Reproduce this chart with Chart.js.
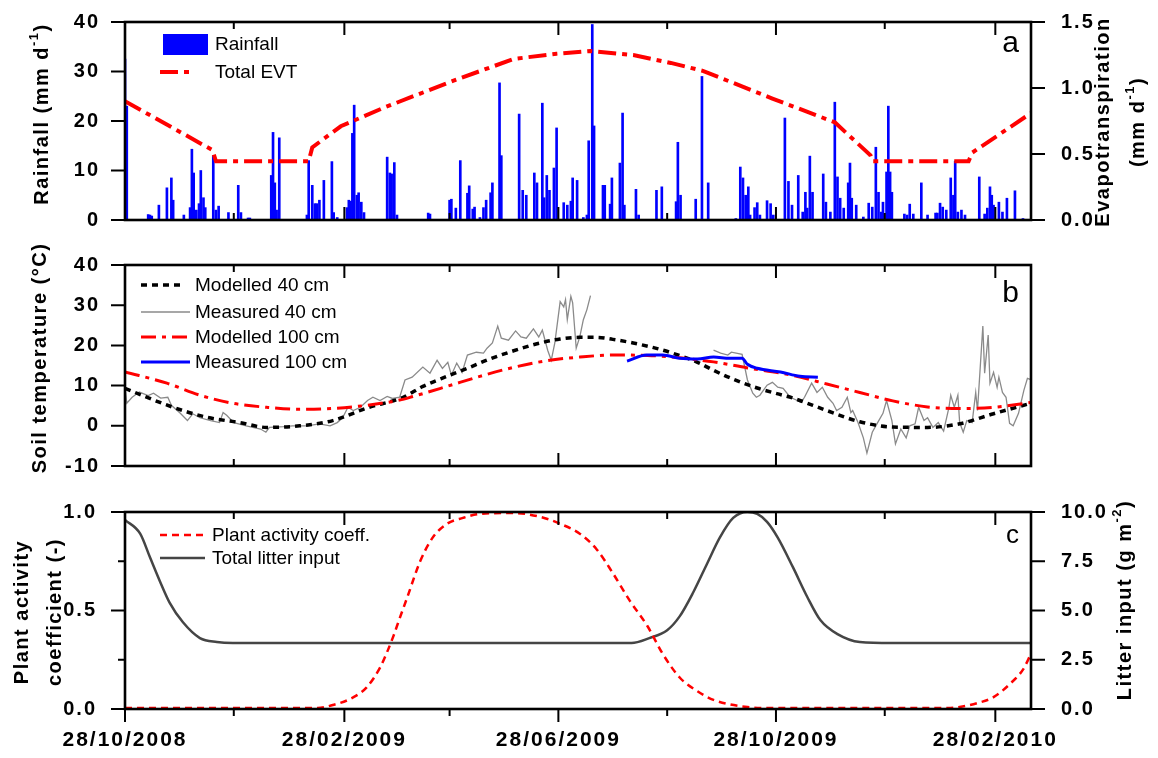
<!DOCTYPE html>
<html>
<head>
<meta charset="utf-8">
<title>Rainfall, soil temperature and plant activity</title>
<script src="https://cdn.jsdelivr.net/npm/chart.js@4.4.1/dist/chart.umd.min.js"></script>
<style>
  html, body { margin: 0; padding: 0; background: #fff; }
  body { width: 1158px; height: 758px; position: relative; overflow: hidden; }
  canvas { position: absolute; left: 0; }
</style>
</head>
<body>
<canvas id="chartA" width="1158" height="240" style="top:0px"></canvas>
<canvas id="chartB" width="1158" height="245" style="top:240px"></canvas>
<canvas id="chartC" width="1158" height="273" style="top:485px"></canvas>
<script>
// x values are days after 28/10/2008
var majorDays = [0, 123, 243, 365, 488];
var minorDays = [61, 182, 304, 426];
var dateLabels = ['28/10/2008', '28/02/2009', '28/06/2009', '28/10/2009', '28/02/2010'];

// panel a: daily rainfall (mm) and total evapotranspiration (mm/d)
var rainDays = [0, 1, 13, 14, 15, 19, 23.5, 26, 27, 33,
    36.5, 37.5, 38.5, 40, 41.5, 42.5, 44, 45, 49.5, 51,
    52.5, 58, 63.5, 65, 69, 70, 82, 83, 84, 85,
    86.5, 102, 103, 105, 106.5, 107.5, 109, 111.5, 116, 117,
    119, 124.5, 125.5, 126.5, 127.5, 128.5, 130, 131, 132.5, 134,
    147, 148.5, 149.5, 151, 152.5, 170, 171, 182, 183, 185.5,
    188, 192, 193, 195, 196, 199, 201, 202.5, 205, 206,
    210, 211, 221, 223, 225, 229.5, 231, 234, 235, 236.5,
    238, 240.5, 242, 246, 248, 250, 251, 253.5, 257, 259,
    260, 262, 263, 268, 269, 272, 273, 277.5, 279, 280,
    286.5, 288, 298, 301, 309, 310, 311.5, 320, 323.5, 327,
    342.5, 345, 346.5, 348, 349.5, 350.5, 353, 354.5, 356, 360,
    362, 363.5, 370, 372, 374, 377.5, 380, 381.5, 382.5, 384,
    385.5, 391.5, 393, 395.5, 398, 399.5, 401, 403, 405.5, 406.5,
    407.5, 410, 414, 417, 419, 421, 422.5, 424, 425, 427,
    428, 429, 430, 437, 438.5, 440, 442, 446.5, 450, 454.5,
    455.5, 457, 458.5, 460.5, 463, 464.5, 465.5, 467, 469, 471,
    479, 482, 483.5, 485, 486, 487, 490, 492, 494.5, 499,
    503.5];
var rainMm = [32.5, 23, 1.1, 1, 0.8, 3, 6.5, 8.5, 4, 1,
    2.5, 14.3, 9.5, 2, 3.3, 10, 4.5, 2.5, 13, 2,
    2.8, 1.5, 7, 1.5, 0.4, 0.4, 9, 17.7, 7.5, 2,
    16.6, 1, 12, 7, 3.3, 3.3, 4, 8, 11.8, 1.5,
    0.5, 2.5, 4, 3.8, 17.5, 23.2, 5, 5.5, 3.6, 1.5,
    12.7, 9.5, 9.3, 11.6, 1, 1.4, 1.2, 4, 4.2, 2.4,
    12, 5.4, 6.9, 2.2, 2.6, 0.5, 2.5, 4, 5.5, 7.5,
    27.7, 13, 21.4, 6, 5, 9.5, 7.5, 23.6, 4.5, 9,
    6, 10.5, 18.6, 3.5, 3, 3.8, 8.5, 8, 0.5, 1,
    16, 39.5, 19, 7, 7, 3.2, 8.5, 11.5, 21.6, 3,
    6.2, 1, 6, 6.7, 3.7, 15.7, 5, 4.2, 29, 7.5,
    0.3, 10.7, 8.5, 5, 6.7, 1, 2.5, 3.5, 1, 3.9,
    3.3, 1, 20.6, 7.8, 3, 9, 1.6, 5.6, 2.4, 12.9,
    5.6, 9.3, 3.6, 1.6, 23.8, 8.7, 4.4, 2.4, 7.5, 11.5,
    4.4, 3, 0.6, 3.4, 2.6, 14.7, 5.6, 1.6, 3.6, 9.7,
    23, 9.7, 5.6, 1.2, 1, 3.2, 1.2, 7.5, 1, 1.4,
    1.4, 3.4, 2.6, 2, 8.5, 5, 11.9, 1.6, 2, 1,
    8.7, 1.2, 2.4, 6.7, 5, 3, 3.6, 1.6, 4.4, 5.9,
    0.3];
var evtDays = [0, 49, 51, 103, 105, 121, 145, 185, 218, 242, 261, 285, 306, 324, 363, 398, 418, 419, 473, 475, 508];
var evtVals = [0.90, 0.53, 0.445, 0.445, 0.55, 0.71, 0.85, 1.06, 1.22, 1.26, 1.28, 1.25, 1.19, 1.13, 0.92, 0.74, 0.49, 0.445, 0.445, 0.51, 0.81];

// panel b: soil temperature (degrees C)
var mod40Days = [0, 27, 46, 64.5, 79.5, 98, 116.5, 135.5, 156, 167, 180.5, 192, 204.5, 217.5, 231, 244, 255, 264.5,
    273.5, 285, 298.5, 307.5, 321, 330, 341, 354.5, 365.5, 374.5, 393.5, 412, 430.5, 450, 468, 487, 508];
var mod40Vals = [9.3, 4.6, 2.1, 0.8, -0.4, 0, 1.3, 4.4, 7.1, 9.8, 12.3, 14.3, 16.6, 18.6, 20.4, 21.6, 22.0, 22.0,
    21.5, 20.6, 19.2, 18.0, 15.8, 13.8, 11.6, 9.4, 8.0, 6.9, 3.8, 1.0, -0.3, -0.4, 0.5, 3.0, 5.6];

var meas40Days = [0, 1, 4, 8, 13, 16, 20, 24, 26, 31,
    35, 38, 42, 48, 53, 55, 57, 61, 68, 76,
    79, 81, 89, 94, 102, 109, 115, 119, 122, 125,
    128, 132, 136, 139, 143, 147, 150, 154, 157, 161,
    167, 171, 175, 178, 181, 183, 186, 189, 192, 197,
    201, 203, 206, 209, 211, 215, 219, 222, 225, 229,
    232, 234, 237, 239, 241, 244, 246, 247, 248, 250,
    251, 253, 255, 257, 259, 261,
    295,
    330, 334, 338, 340, 346, 349, 352, 354, 356, 360,
    363, 366, 369, 373, 377, 379, 381, 385, 388, 391,
    394, 397, 399, 402, 405, 407, 408, 411, 414, 416,
    419, 422, 425, 427, 430, 432, 435, 438, 440, 443,
    445, 448, 450, 453, 456, 459, 462, 463, 465, 467,
    468, 470, 472, 475, 477, 478, 481, 482, 484, 485,
    487, 489, 490, 492, 494, 496, 498, 501, 504, 506,
    508];
var meas40Vals = [9.7, 5.6, 7.1, 8.4, 7.5, 8.1, 6.9, 7.1, 5.1, 3.1,
    1.3, 3, 2, 1.3, 0.8, 3.3, 2.6, 0.8, 0, -0.8,
    -1.6, -0.4, -0.2, 0, 0, 0.5, 0, 0.8, 2, 4.6,
    3.8, 4.6, 6.3, 7.1, 6.3, 7.3, 6.8, 7.1, 11.4, 12.1,
    14.6, 13.1, 16.3, 14.3, 15.8, 12.6, 15.6, 13.3, 17.6, 18.3,
    18.1, 19.3, 20.6, 24.8, 21.8, 21.3, 23.6, 22.1, 21.8, 24.1,
    22.1, 23.8, 18.8, 16.3, 20.6, 30.9, 29.6, 31.4, 26.4, 32.2,
    30.6, 19.3, 22.1, 26.4, 28.9, 32.4,
    null,
    18.8, 18.1, 17.6, 18.3, 17.8, 11.4, 8.1, 7.1, 7.6, 10.1,
    10.8, 9.6, 9.3, 7.1, 6.3, 5.8, 7.1, 10.6, 8.3, 9.6,
    7.1, 5.6, 3.8, 4.6, 7.1, 3.3, 3.8, 0.8, -3, -6.8,
    -1.6, 0.8, 3.1, 6.3, 1.3, -4.5, -0.8, -3, 0, 0.5,
    4.6, 1.3, 2, -0.4, 0.8, -1.3, 4.6, 7.6, 4.6, 7.6,
    0.8, -1.6, 1.3, 0.8, 8.3, 3.8, 24.8, 13.1, 22.6, 10.6,
    13.3, 9.6, 12.1, 8.3, 7.1, 0.6, 0, 3.1, 8.8, 11.8,
    11.5];

var mod100Days = [0, 23.5, 42, 60.5, 79.5, 98, 116.5, 135.5, 154, 161.5, 180.5, 199, 217.5, 236.5, 255,
    273.5, 293, 311, 330, 349, 367.5, 374.5, 393.5, 412, 430.5, 450, 468, 487, 508];
var mod100Vals = [13.4, 10.6, 7.6, 5.6, 4.6, 4.1, 4.3, 5.1, 6.4, 7.3, 9.8, 12.3, 14.5, 16.2, 17.1,
    17.6, 17.5, 16.9, 15.9, 14.4, 13.1, 12.5, 10.4, 8.3, 6.2, 4.7, 4.3, 4.6, 5.8];

var meas100Days = [281.5, 292.5, 301.5, 311, 321, 330, 339, 346, 349, 354.5, 367.5, 378.5, 388.5];
var meas100Vals = [16.1, 17.6, 17.6, 16.8, 16.6, 17.1, 16.8, 16.8, 15.3, 14.3, 13.4, 12.3, 12.1];

// panel c: plant activity coefficient (-) and total litter input (g m-2)
var plantDays = [0, 60, 108, 116.5, 126, 135.5, 143, 147, 150.5, 154, 158, 165.5, 172.5, 180.5, 189.5, 199,
    217.5, 233, 244, 255, 264.5, 273.5, 283, 293, 301.5, 311, 321, 330, 349, 363.5,
    461, 468, 478, 487, 496.5, 503.5, 508];
var plantVals = [0.005, 0.005, 0.005, 0.02, 0.05, 0.11, 0.21, 0.29, 0.37, 0.46, 0.56, 0.75, 0.87, 0.94, 0.97, 0.99,
    0.995, 0.975, 0.94, 0.89, 0.81, 0.69, 0.55, 0.42, 0.28, 0.16, 0.09, 0.046, 0.01, 0.005,
    0.005, 0.01, 0.03, 0.06, 0.13, 0.2, 0.28];

var litterDays = [0, 8.5, 14, 19.5, 25, 32.5, 42, 51.5, 60.5, 284, 294, 304, 311, 318.5, 326.5, 333.5, 341, 349,
    354.5, 360, 366, 374.5, 382.5, 390, 399.5, 412, 430, 508];
var litterVals = [9.6, 8.9, 7.7, 6.5, 5.4, 4.4, 3.6, 3.4, 3.35, 3.35, 3.6, 4.0, 4.7, 5.9, 7.4, 8.7, 9.7, 10.0,
    9.9, 9.5, 8.7, 7.2, 5.7, 4.5, 3.8, 3.4, 3.35, 3.35];

var FONT = '"Liberation Sans", Arial, Helvetica, sans-serif';
Chart.defaults.font.family = FONT;

function pts(xs, ys) {
    return xs.map(function (x, i) { return { x: x, y: ys[i] }; });
}

function oneDecimal(v) { return Number(v).toFixed(1); }

function yAxis(pos, min, max, step, width, pad, fmt) {
    return {
        type: 'linear', position: pos, min: min, max: max,
        grid: { display: false }, border: { display: false },
        ticks: { stepSize: step, padding: pad, color: '#000', autoSkip: false,
                 font: { family: FONT, size: 20, weight: 'bold' }, callback: fmt },
        afterFit: function (s) {
            s.width = width;
            // keep the plot area where the layout padding puts it
            s.paddingTop = 0;
            s.paddingBottom = 0;
        }
    };
}

// rotated (bottom to top) bold text, parts may be superscripts
function rotText(ctx, parts, cx, cy) {
    ctx.save();
    ctx.translate(cx, cy);
    ctx.rotate(-Math.PI / 2);
    ctx.letterSpacing = '1.5px';
    ctx.fillStyle = '#000';
    ctx.textBaseline = 'middle';
    ctx.textAlign = 'left';
    var total = 0;
    parts.forEach(function (p) {
        ctx.font = 'bold ' + (p.sup ? 13 : 20) + 'px ' + FONT;
        p.w = ctx.measureText(p.t).width;
        total += p.w;
    });
    var x = -total / 2;
    parts.forEach(function (p) {
        ctx.font = 'bold ' + (p.sup ? 13 : 20) + 'px ' + FONT;
        ctx.fillText(p.t, x, p.sup ? -8 : 0);
        x += p.w;
    });
    ctx.restore();
}

function plainText(ctx, t, x, y, size, align) {
    ctx.save();
    ctx.letterSpacing = '0px';
    ctx.fillStyle = '#000';
    ctx.font = size + 'px ' + FONT;
    ctx.textAlign = align || 'left';
    ctx.textBaseline = align === 'right' ? 'alphabetic' : 'middle';
    ctx.fillText(t, x, y);
    ctx.restore();
}

function sampleLine(ctx, ds, x1, x2, y) {
    ctx.save();
    ctx.strokeStyle = ds.borderColor;
    ctx.lineWidth = ds.borderWidth;
    ctx.setLineDash(ds.borderDash || []);
    ctx.beginPath();
    ctx.moveTo(x1, y);
    ctx.lineTo(x2, y);
    ctx.stroke();
    ctx.restore();
}

// frame, inward/outward tick marks and the hand placed texts
function decor(opts) {
    return {
        id: 'decor',
        beforeDraw: function (chart) { chart.ctx.letterSpacing = '2px'; },
        beforeDatasetsDraw: function (chart) { chart.ctx.letterSpacing = '0px'; },
        afterDatasetsDraw: function (chart) {
            var ctx = chart.ctx, a = chart.chartArea, xs = chart.scales.x;
            var ys = chart.scales.y, y1 = chart.scales.y1;
            ctx.save();
            ctx.strokeStyle = '#000';
            ctx.lineWidth = 2;
            ctx.beginPath();
            function xTick(d, len) {
                var px = xs.getPixelForValue(d);
                ctx.moveTo(px, a.top);
                ctx.lineTo(px, a.top + len);
                ctx.moveTo(px, a.bottom);
                ctx.lineTo(px, opts.bottomOut ? a.bottom + len : a.bottom - len);
            }
            majorDays.forEach(function (d) { xTick(d, 13); });
            minorDays.forEach(function (d) { xTick(d, 7); });
            ys.ticks.forEach(function (t) {
                var py = ys.getPixelForValue(t.value);
                ctx.moveTo(a.left, py);
                ctx.lineTo(a.left - 14, py);
            });
            (opts.leftMinor || []).forEach(function (v) {
                var py = ys.getPixelForValue(v);
                ctx.moveTo(a.left, py);
                ctx.lineTo(a.left - 7, py);
            });
            if (y1) {
                y1.ticks.forEach(function (t) {
                    var py = y1.getPixelForValue(t.value);
                    ctx.moveTo(a.right, py);
                    ctx.lineTo(a.right + 14, py);
                });
            }
            ctx.stroke();
            ctx.lineWidth = 2.6;
            ctx.strokeRect(a.left, a.top, a.right - a.left, a.bottom - a.top);
            ctx.restore();
            opts.extra(ctx, chart);
        }
    };
}

var baseOptions = function (padTop, padBottom, padRight) {
    return {
        responsive: false, animation: false, devicePixelRatio: 1,
        layout: { padding: { top: padTop, bottom: padBottom, left: 0, right: padRight } },
        plugins: { legend: { display: false }, tooltip: { enabled: false } },
        elements: { point: { radius: 0 } }
    };
};

// ---------- panel a ----------
var optsA = baseOptions(22, 20, 0);
optsA.scales = {
    x: { type: 'linear', min: 0, max: 508, offset: false, display: false },
    y: yAxis('left', 0, 40, 10, 125, 17),
    y1: yAxis('right', 0, 1.5, 0.5, 127, 22, oneDecimal)
};
new Chart(document.getElementById('chartA'), {
    type: 'line',
    data: {
        datasets: [{
            type: 'line', label: 'Total EVT', data: pts(evtDays, evtVals), yAxisID: 'y1',
            borderColor: '#ff0000', borderWidth: 4, borderDash: [18, 6, 5, 6], tension: 0, pointRadius: 0
        }, {
            type: 'bar', label: 'Rainfall', data: pts(rainDays, rainMm), yAxisID: 'y',
            backgroundColor: '#0000ff', borderWidth: 0, barThickness: 2
        }]
    },
    options: optsA,
    plugins: [decor({
        extra: function (ctx, chart) {
            var ds = chart.data.datasets;
            ctx.save();
            ctx.fillStyle = ds[1].backgroundColor;
            ctx.fillRect(163, 34, 45, 21);
            ctx.restore();
            plainText(ctx, ds[1].label, 215, 45, 19);
            sampleLine(ctx, ds[0], 160, 193, 72);
            plainText(ctx, ds[0].label, 215, 73, 19);
            rotText(ctx, [{ t: 'Rainfall (mm d' }, { t: '-1', sup: true }, { t: ')' }], 42, 114);
            rotText(ctx, [{ t: 'Evapotranspiration' }], 1103, 122);
            rotText(ctx, [{ t: '(mm d' }, { t: '-1', sup: true }, { t: ')' }], 1138, 122);
            plainText(ctx, 'a', 1019, 52, 30, 'right');
        }
    })]
});

// ---------- panel b ----------
var optsB = baseOptions(25, 19, 127);
optsB.scales = {
    x: { type: 'linear', min: 0, max: 508, offset: false, display: false },
    y: yAxis('left', -10, 40, 10, 125, 17)
};
new Chart(document.getElementById('chartB'), {
    type: 'line',
    data: {
        datasets: [{
            label: 'Modelled 40 cm', data: pts(mod40Days, mod40Vals), order: 2,
            borderColor: '#000000', borderWidth: 3.5, borderDash: [6, 5], cubicInterpolationMode: 'monotone'
        }, {
            label: 'Measured 40 cm', data: pts(meas40Days, meas40Vals), order: 3,
            borderColor: '#8a8a8a', borderWidth: 1.3, tension: 0
        }, {
            label: 'Modelled 100 cm', data: pts(mod100Days, mod100Vals), order: 1,
            borderColor: '#ff0000', borderWidth: 3, borderDash: [15, 6, 4, 6], cubicInterpolationMode: 'monotone'
        }, {
            label: 'Measured 100 cm', data: pts(meas100Days, meas100Vals), order: 0,
            borderColor: '#0000ff', borderWidth: 3, cubicInterpolationMode: 'monotone'
        }]
    },
    options: optsB,
    plugins: [decor({
        extra: function (ctx, chart) {
            var ds = chart.data.datasets;
            var rows = [45, 72, 97, 122];
            ds.forEach(function (d, i) {
                sampleLine(ctx, d, 141, i === 0 ? 181 : 190, rows[i]);
                plainText(ctx, d.label, 195, rows[i] + 1, 19);
            });
            rotText(ctx, [{ t: 'Soil temperature (\u00B0C)' }], 40, 118);
            plainText(ctx, 'b', 1019, 62, 30, 'right');
        }
    })]
});

// ---------- panel c ----------
var optsC = baseOptions(27, 0, 0);
optsC.scales = {
    x: {
        type: 'linear', position: 'bottom', min: 0, max: 508, offset: false,
        grid: { display: false }, border: { display: false },
        afterBuildTicks: function (s) {
            s.ticks = majorDays.map(function (d) { return { value: d }; });
        },
        ticks: {
            autoSkip: false, maxRotation: 0, padding: 11, color: '#000',
            font: { family: FONT, size: 21, weight: 'bold' },
            callback: function (v) { return dateLabels[majorDays.indexOf(v)]; }
        },
        afterFit: function (s) {
            s.height = 49;
            s.paddingLeft = 0;
            s.paddingRight = 0;
        }
    },
    y: yAxis('left', 0, 1, 0.5, 125, 20, oneDecimal),
    y1: yAxis('right', 0, 10, 2.5, 127, 22, oneDecimal)
};
new Chart(document.getElementById('chartC'), {
    type: 'line',
    data: {
        datasets: [{
            label: 'Plant activity coeff.', data: pts(plantDays, plantVals), yAxisID: 'y',
            borderColor: '#ff0000', borderWidth: 2.5, borderDash: [7, 5], cubicInterpolationMode: 'monotone'
        }, {
            label: 'Total litter input', data: pts(litterDays, litterVals), yAxisID: 'y1',
            borderColor: '#454545', borderWidth: 2.5, cubicInterpolationMode: 'monotone'
        }]
    },
    options: optsC,
    plugins: [decor({
        bottomOut: true,
        leftMinor: [0.25, 0.75],
        extra: function (ctx, chart) {
            var ds = chart.data.datasets;
            sampleLine(ctx, ds[0], 160, 203, 50);
            plainText(ctx, ds[0].label, 212, 51, 19);
            sampleLine(ctx, ds[1], 160, 205, 73);
            plainText(ctx, ds[1].label, 212, 74, 19);
            rotText(ctx, [{ t: 'Plant activity' }], 22, 127);
            rotText(ctx, [{ t: 'coefficient (-)' }], 55, 127);
            rotText(ctx, [{ t: 'Litter input (g m' }, { t: '-2', sup: true }, { t: ')' }], 1125, 115);
            plainText(ctx, 'c', 1019, 58, 26, 'right');
        }
    })]
});
</script>
</body>
</html>
